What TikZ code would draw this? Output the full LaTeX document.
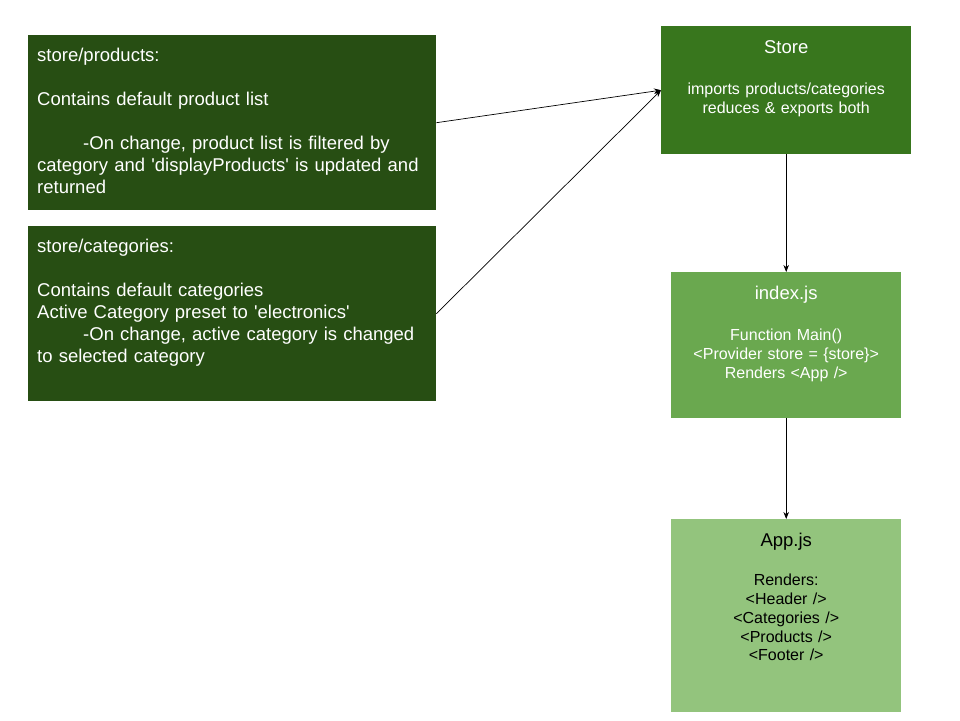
\documentclass[tikz,border=0pt]{standalone}
\usepackage{fontspec}
\setmainfont{Liberation Sans}
\usepackage{tikz}
\usetikzlibrary{arrows.meta,positioning}
\definecolor{darkforest}{HTML}{274E13}
\definecolor{storegreen}{HTML}{38761D}
\definecolor{indexgreen}{HTML}{6AA84F}
\definecolor{appgreen}{HTML}{93C47D}
\newcommand{\boxtitle}[1]{{\fontsize{18.5}{22}\selectfont #1}}
\newcommand{\tabin}{\hspace*{46pt}}
\newcommand{\q}{\textquotesingle}

\begin{document}
\begin{tikzpicture}[x=1pt,y=-1pt,
    slicebox/.style={fill=darkforest,text=white,anchor=north west,align=left,
      text width=390pt,inner sep=9pt,text height=17pt,text depth=140pt,
      font=\fontsize{18.5}{22}\selectfont},
    filebox/.style={anchor=north west,align=center,inner sep=9pt,text height=18pt,
      font=\fontsize{16}{18.7}\selectfont},
    flow/.style={-{Stealth[length=7pt,width=5.5pt]},line width=0.7pt}]
        \useasboundingbox (0,0) rectangle (960,720);
        % reducers
        \node[slicebox] (products) at (28,35) {store/products:\\[22pt]
            Contains default product list\\[22pt]
            \tabin-On change, product list is filtered by\\
            category and \q displayProducts\q{} is updated and\\
            returned};
        \node[slicebox] (categories) at (28,226) {store/categories:\\[22pt]
            Contains default categories\\
            Active Category preset to \q electronics\q\\
            \tabin-On change, active category is changed\\
            to selected category};
        % app side
        \node[filebox,fill=storegreen,text=white,text width=232pt,text depth=92pt] (store) at (661,26)
            {\boxtitle{Store}\\[23pt]imports products/categories\\reduces \& exports both};
        \node[filebox,fill=indexgreen,text=white,text width=212pt,text depth=110pt] (index) at (671,272)
            {\boxtitle{index.js}\\[23pt]Function Main()\\<Provider store = \{store\}>\\Renders <App />};
        \node[filebox,fill=appgreen,text=black,text width=212pt,text depth=157pt] (app) at (671,519)
            {\boxtitle{App.js}\\[21pt]Renders:\\<Header />\\<Categories />\\<Products />\\<Footer />};
        \draw[flow] (products.east) -- (store.west);
        \draw[flow] (categories.east) -- (store.west);
        \draw[flow] (store.south) -- (index.north);
        \draw[flow] (index.south) -- (app.north);
    \end{tikzpicture}
\end{document}
